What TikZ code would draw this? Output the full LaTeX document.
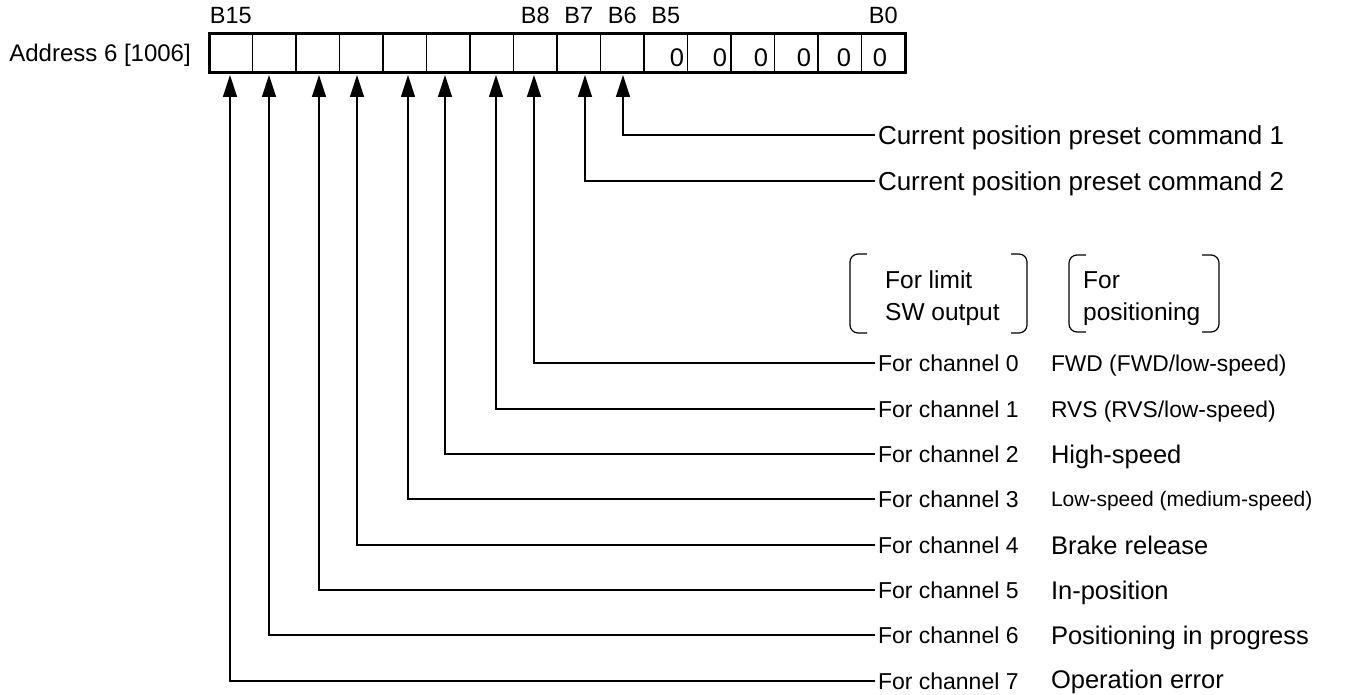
\documentclass[tikz,border=0pt]{standalone}
\usepackage{fontspec}
\setmainfont{Liberation Sans}
\usetikzlibrary{arrows.meta,calc}
\tikzset{
  cell/.style={draw, line width=1.2pt, minimum width=43.5pt, minimum height=39pt, inner sep=0pt, outer sep=0pt},
  bitlab/.style={font=\fontsize{23.5}{28}\selectfont, inner sep=0pt, anchor=base},
  zero/.style={font=\fontsize{25.5}{30}\selectfont, inner sep=0pt, anchor=base},
  conn/.style={line width=1.3pt, -{Triangle[length=22pt,width=14pt]}},
  rowlab/.style={anchor=west, inner sep=3pt, outer sep=0pt, text depth=0pt, yshift=1pt},
  chlab/.style={rowlab, font=\fontsize{23}{27}\selectfont, text height=16.5pt},
  presetlab/.style={rowlab, font=\fontsize{26}{31}\selectfont, text height=18.6pt},
  fnlab/.style={rowlab, font=\fontsize{25.5}{30}\selectfont, text height=18.3pt},
  fnsmall/.style={rowlab, font=\fontsize{22.8}{27}\selectfont, text height=16.3pt},
  fnsmaller/.style={rowlab, font=\fontsize{21}{25}\selectfont, text height=15pt},
  brk/.style={line width=1.2pt, rounded corners=8pt},
  headlab/.style={font=\fontsize{24.5}{30}\selectfont, anchor=base west, inner sep=0pt},
}
\begin{document}
\begin{tikzpicture}[x=1pt,y=-1pt]
\useasboundingbox (0,0) rectangle (1349,695);
% register cells
\foreach \i in {0,...,15}{
  \pgfmathtruncatemacro\b{15-\i}
  \node[cell] (b\b) at ({209+43.5*\i+21.75},53.5) {};
}
\draw[line width=3pt] (b15.north west) rectangle (b0.south east);
% address
\node[font=\fontsize{24}{28}\selectfont, anchor=base east, inner sep=0pt] (addr) at (191,62) {Address 6 [1006]};
% bit labels
\foreach \b in {15,8,7,6,5,0}{
  \node[bitlab] (l\b) at ($(b\b.north)+(0,-10)$) {B\b};
}
% zeros
\node[zero] (z5) at (677,67) {0};
\node[zero] (z4) at (720,67) {0};
\node[zero] (z3) at (761,67) {0};
\node[zero] (z2) at (804,67) {0};
\node[zero] (z1) at (844,67) {0};
\node[zero] (z0) at (880,67) {0};
% arrow tips
\coordinate (t15) at (230,75);
\coordinate (t14) at (269,75);
\coordinate (t13) at (319,75);
\coordinate (t12) at (357,75);
\coordinate (t11) at (408,75);
\coordinate (t10) at (445,75);
\coordinate (t9) at (496,75);
\coordinate (t8) at (534,75);
\coordinate (t7) at (585,75);
\coordinate (t6) at (623,75);
% preset labels
\node[presetlab] (p1) at (875,136) {Current position preset command 1};
\node[presetlab] (p2) at (875,182) {Current position preset command 2};
% headings with brackets
\draw[brk] (867,254) -- (850,254) -- (850,333) -- (867,333);
\draw[brk] (1011,254) -- (1027,254) -- (1027,333) -- (1011,333);
\draw[brk] (1086,255) -- (1069,255) -- (1069,332) -- (1086,332);
\draw[brk] (1202,255) -- (1219,255) -- (1219,332) -- (1202,332);
\node[headlab] (h1a) at (885,288) {For limit};
\node[headlab] (h1b) at (885,320) {SW output};
\node[headlab] (h2a) at (1083,288) {For};
\node[headlab] (h2b) at (1083,320) {positioning};
% channel labels
\node[chlab] (ch0) at (875,364) {For channel 0};
\node[chlab] (ch1) at (875,410) {For channel 1};
\node[chlab] (ch2) at (875,455) {For channel 2};
\node[chlab] (ch3) at (875,500) {For channel 3};
\node[chlab] (ch4) at (875,546) {For channel 4};
\node[chlab] (ch5) at (875,591) {For channel 5};
\node[chlab] (ch6) at (875,636) {For channel 6};
\node[chlab] (ch7) at (875,682) {For channel 7};
% function labels
\node[fnsmall] (f0) at (1048,364) {FWD (FWD/low-speed)};
\node[fnsmall] (f1) at (1048,410) {RVS (RVS/low-speed)};
\node[fnlab] (f2) at (1048,455) {High-speed};
\node[fnsmaller] (f3) at (1048,500) {Low-speed (medium-speed)};
\node[fnlab] (f4) at (1048,546) {Brake release};
\node[fnlab] (f5) at (1048,591) {In-position};
\node[fnlab] (f6) at (1048,636) {Positioning in progress};
\node[fnlab] (f7) at (1048,680) {Operation error};
% connectors
\draw[conn] (p1.west) -| (t6);
\draw[conn] (p2.west) -| (t7);
\draw[conn] (ch0.west) -| (t8);
\draw[conn] (ch1.west) -| (t9);
\draw[conn] (ch2.west) -| (t10);
\draw[conn] (ch3.west) -| (t11);
\draw[conn] (ch4.west) -| (t12);
\draw[conn] (ch5.west) -| (t13);
\draw[conn] (ch6.west) -| (t14);
\draw[conn] (ch7.west) -| (t15);
\end{tikzpicture}
\end{document}
